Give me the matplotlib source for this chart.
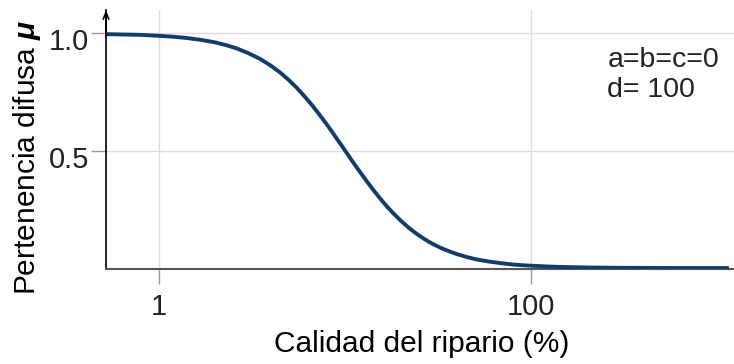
import matplotlib
matplotlib.use("Agg")
import matplotlib.pyplot as plt
import matplotlib.transforms as mtransforms

plt.rcParams['font.family'] = ['Liberation Sans', 'DejaVu Sans']
plt.rcParams['mathtext.fontset'] = 'custom'
plt.rcParams['mathtext.bfit'] = 'Liberation Sans:italic:bold'
plt.rcParams['text.color'] = '#222222'

# values
calidad = [0.52, 0.6, 0.7, 0.8, 1.0, 1.2, 1.4, 1.7, 2.0, 2.3, 2.6, 3.0, 3.5,
           4.0, 4.5, 5.0, 5.5, 6.0, 6.5, 7.0, 7.5, 8.0, 8.5, 9.0, 9.5, 10,
           11, 12, 13, 14, 15, 16, 17, 18, 20, 22, 24, 26, 28, 30, 33, 36,
           40, 45, 50, 55, 60, 70, 80, 90, 100, 120, 150, 200, 250, 300,
           400, 500, 700, 900, 1150]
pertenencia = [0.997, 0.996, 0.995, 0.994, 0.990, 0.986, 0.981, 0.972, 0.962,
               0.950, 0.937, 0.917, 0.891, 0.862, 0.832, 0.800, 0.768, 0.735,
               0.703, 0.671, 0.640, 0.610, 0.581, 0.552, 0.526, 0.500, 0.452,
               0.410, 0.372, 0.338, 0.308, 0.281, 0.257, 0.236, 0.200, 0.171,
               0.148, 0.129, 0.113, 0.100, 0.084, 0.072, 0.059, 0.047, 0.038,
               0.032, 0.027, 0.020, 0.015, 0.012, 0.010, 0.0069, 0.0044,
               0.0025, 0.0016, 0.0011, 0.0006, 0.0004, 0.0002, 0.00012, 0.0001]
xticks = [1, 100]
xticklabels = ['1', '100']
yticks = [0.5, 1.0]
yticklabels = ['0.5', '1.0']

fig = plt.figure(figsize=(7.34, 3.64), dpi=100)
ax = fig.add_axes([0.1444, 0.261, 0.855, 0.7115])

ax.plot(calidad, pertenencia, color='#0f3d6e', lw=2.8, solid_capstyle='butt', zorder=3)
ax.set_xscale('log')
ax.set_xlim(0.519, 1219)
ax.set_ylim(-0.004, 1.10)

ax.set_xticks(xticks)
ax.set_xticklabels(xticklabels)
ax.minorticks_off()
ax.set_yticks(yticks)
ax.set_yticklabels(yticklabels)
ax.tick_params(axis='x', length=11, width=1, color='#999999', labelsize=21,
               pad=6, labelcolor='#222222')
ax.tick_params(axis='y', length=11, width=1, color='#999999', labelsize=21,
               pad=1, labelcolor='#222222')
shift = mtransforms.ScaledTranslation(0, -6 / 100, fig.dpi_scale_trans)
for lab in ax.get_yticklabels():
    lab.set_transform(lab.get_transform() + shift)

ax.grid(True, color='#dcdcdc', lw=1)
ax.set_axisbelow(True)

for s in ['top', 'right']:
    ax.spines[s].set_visible(False)
ax.spines['left'].set_color('black')
ax.spines['left'].set_linewidth(1.2)
ax.spines['bottom'].set_color('#555555')
ax.spines['bottom'].set_linewidth(1.5)
ax.annotate('', xy=(0, 1.0), xytext=(0, 0.9), xycoords='axes fraction',
            arrowprops=dict(arrowstyle='->,head_length=0.5,head_width=0.2',
                            color='black', lw=1.2, shrinkA=0, shrinkB=0))

ax.set_xlabel('Calidad del ripario (%)', fontsize=21.5)
ax.xaxis.set_label_coords(0.503, -0.236)
ax.set_ylabel(r'Pertenencia difusa $\mathbfit{\mu}$', fontsize=21.5)
ax.yaxis.set_label_coords(-0.1, 0.43)

ax.text(0.799, 0.75, 'a=b=c=0\nd= 100', transform=ax.transAxes, fontsize=20.5,
        va='center', ha='left', linespacing=1.2)

fig.savefig('out.png', dpi=100)
